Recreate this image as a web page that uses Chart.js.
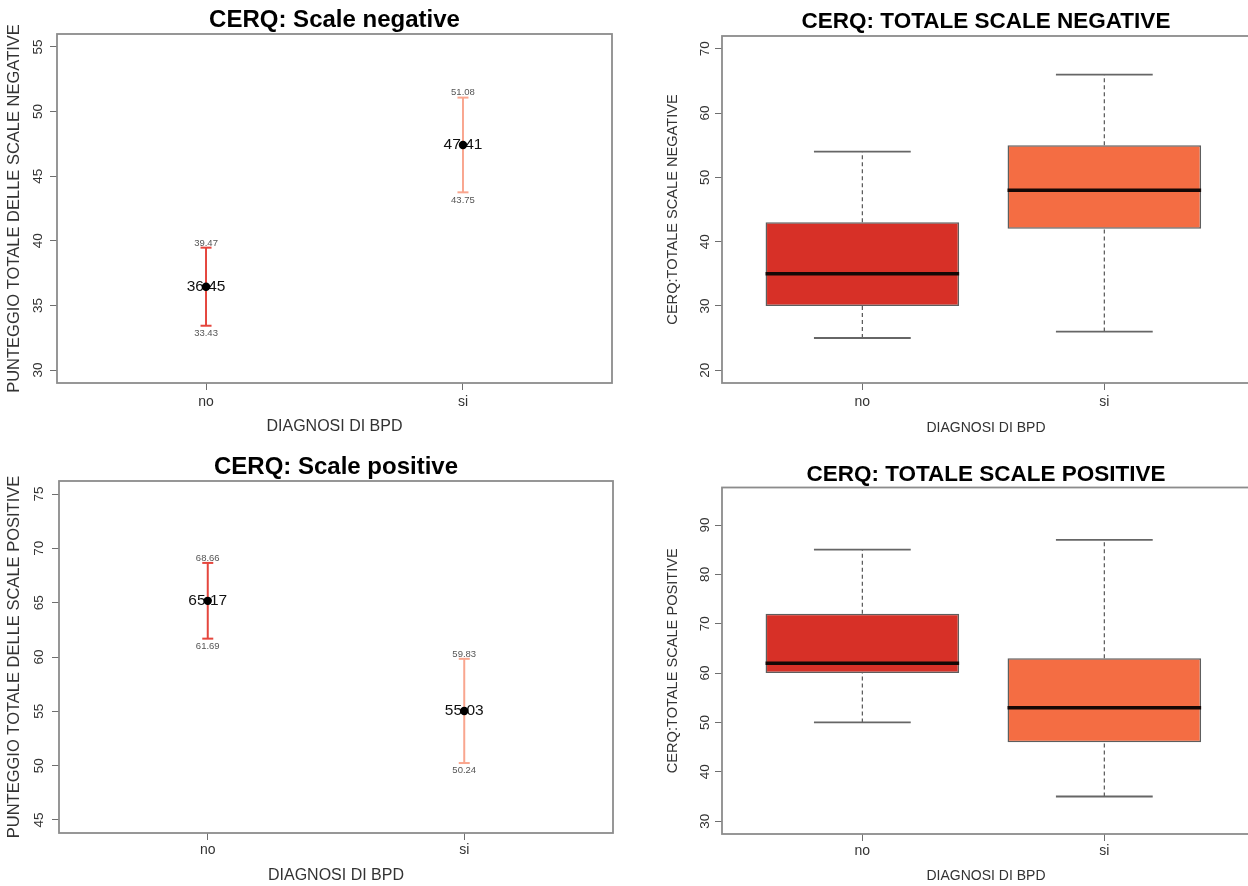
<!DOCTYPE html>
<html>
<head>
<meta charset="utf-8">
<script src="https://cdn.jsdelivr.net/npm/chart.js@4.4.1/dist/chart.umd.min.js"></script>
<style>
html, body { margin: 0; padding: 0; background: #ffffff; overflow: hidden; width: 1248px; height: 886px; }
canvas { position: absolute; }
</style>
</head>
<body>
<canvas id="tl" width="624" height="443" style="left:0px;top:0px;width:624px;height:443px"></canvas>
<canvas id="tr" width="640" height="443" style="left:624px;top:0px;width:640px;height:443px"></canvas>
<canvas id="bl" width="624" height="443" style="left:0px;top:443px;width:624px;height:443px"></canvas>
<canvas id="br" width="640" height="443" style="left:624px;top:443px;width:640px;height:443px"></canvas>
<script>
// ---------- data ----------
const groups = ['no', 'si'];

// CERQ: Scale negative (mean with confidence interval)
const negMean = [36.45, 47.41];
const negLow  = [33.43, 43.75];
const negHigh = [39.47, 51.08];
const negTicks = [30, 35, 40, 45, 50, 55];

// CERQ: Scale positive (mean with confidence interval)
const posMean = [65.17, 55.03];
const posLow  = [61.69, 50.24];
const posHigh = [68.66, 59.83];
const posTicks = [45, 50, 55, 60, 65, 70, 75];

// CERQ: TOTALE SCALE NEGATIVE (box plot)
const totNegMin = [25, 26];
const totNegQ1  = [30, 42];
const totNegMed = [35, 48];
const totNegQ3  = [43, 55];
const totNegMax = [54, 66];
const totNegTicks = [20, 30, 40, 50, 60, 70];

// CERQ: TOTALE SCALE POSITIVE (box plot)
const totPosMin = [50, 35];
const totPosQ1  = [60, 46];
const totPosMed = [62, 53];
const totPosQ3  = [72, 63];
const totPosMax = [85, 87];
const totPosTicks = [30, 40, 50, 60, 70, 80, 90];

// ---------- style ----------
const FONT = "'Liberation Sans', Arial, Helvetica, sans-serif";
Chart.defaults.font.family = FONT;
Chart.defaults.color = '#333333';
Chart.defaults.animation = false;

const errColors = ['#e5463d', '#f9a68f'];
const boxColors = ['#d73027', '#f46d43'];

const framePlugin = {
  id: 'frame',
  beforeDatasetsDraw(chart) {
    const { ctx, chartArea: a } = chart;
    ctx.save();
    ctx.strokeStyle = '#8c8c8c';
    ctx.lineWidth = 1.8;
    ctx.strokeRect(a.left, a.top, a.right - a.left, a.bottom - a.top);
    ctx.restore();
  }
};

const errLabelPlugin = {
  id: 'errLabels',
  beforeDatasetDraw(chart, args) {
    const ds = chart.data.datasets[args.index];
    if (!ds.meanLabels) return;
    const m = ds.meanLabels;
    const { ctx } = chart;
    const xs = chart.scales.x, ys = chart.scales.y;
    ctx.save();
    ctx.textAlign = 'center';
    m.mean.forEach((v, i) => {
      const x = xs.getPixelForValue(i + 1);
      ctx.fillStyle = '#111111';
      ctx.font = '15.5px ' + FONT;
      ctx.textBaseline = 'middle';
      ctx.fillText(v.toFixed(2), x, ys.getPixelForValue(v));
      ctx.fillStyle = '#555555';
      ctx.font = '9.5px ' + FONT;
      ctx.textBaseline = 'bottom';
      ctx.fillText(m.hi[i].toFixed(2), x, ys.getPixelForValue(m.hi[i]));
      ctx.textBaseline = 'top';
      ctx.fillText(m.lo[i].toFixed(2), x, ys.getPixelForValue(m.lo[i]) + 3);
    });
    ctx.restore();
  }
};

function scales(p) {
  const grid = { display: true, offset: false, drawOnChartArea: false, drawTicks: true, tickLength: 7, color: '#6f6f6f', lineWidth: 1 };
  return {
    x: {
      type: 'linear', min: 0.42, max: p.xMax, offset: false,
      afterBuildTicks: s => { s.ticks = groups.map((g, i) => ({ value: i + 1 })); },
      afterFit: s => { s.height = p.xHeight; },
      ticks: { callback: v => groups[v - 1] ?? '', font: { size: 14 }, color: '#333333', padding: p.xTickPad, autoSkip: false, maxRotation: 0, minRotation: 0 },
      grid: grid,
      border: { display: false },
      title: { display: true, text: 'DIAGNOSI DI BPD', font: { size: p.xTitleSize, lineHeight: 1 }, color: '#333333', padding: { top: 0, bottom: p.xTitlePad } }
    },
    y: {
      type: 'linear', min: p.yMin, max: p.yMax,
      afterBuildTicks: s => { s.ticks = p.yTicks.map(v => ({ value: v })); },
      afterFit: s => { s.width = p.yWidth; },
      ticks: { font: { size: 13.5 }, color: '#333333', minRotation: 90, maxRotation: 90, crossAlign: 'center', padding: p.yTickPad },
      grid: grid,
      border: { display: false },
      title: { display: true, text: p.yTitle, font: { size: p.yTitleSize, lineHeight: 1 }, color: '#333333', padding: { top: p.yTitlePad, bottom: 0 } }
    }
  };
}

function errDatasets(mean, lo, hi) {
  const ds = [];
  ds.push({
    type: 'scatter',
    data: groups.map((g, i) => ({ x: i + 1, y: mean[i] })),
    pointRadius: 4.2, pointBackgroundColor: '#000000', pointBorderWidth: 0,
    order: 0, meanLabels: { mean: mean, lo: lo, hi: hi }
  });
  ds.push({
    type: 'scatter',
    data: groups.flatMap((g, i) => [{ x: i + 1, y: hi[i] }, { x: i + 1, y: lo[i] }]),
    pointStyle: 'line', pointRadius: 5.5, pointBorderWidth: 2,
    pointBorderColor: groups.flatMap((g, i) => [errColors[i], errColors[i]]),
    order: 1
  });
  groups.forEach((g, i) => {
    ds.push({
      type: 'line',
      data: [{ x: i + 1, y: lo[i] }, { x: i + 1, y: hi[i] }],
      borderColor: errColors[i], borderWidth: 2, pointRadius: 0, order: 2
    });
  });
  return ds;
}

function boxDatasets(mn, q1, med, q3, mx) {
  const ds = [];
  ds.push({
    type: 'bar',
    data: groups.map((g, i) => ({ x: i + 1, y: [q1[i], q3[i]] })),
    backgroundColor: boxColors, borderColor: '#5e5e5e', borderWidth: 1.5, borderSkipped: false,
    categoryPercentage: 1, barPercentage: 0.8, order: 3
  });
  groups.forEach((g, i) => {
    const x = i + 1;
    ds.push({ type: 'line', data: [{ x: x - 0.4, y: med[i] }, { x: x + 0.4, y: med[i] }],
      borderColor: '#140806', borderWidth: 3.5, pointRadius: 0, order: 1 });
    ds.push({ type: 'line', data: [{ x: x, y: q3[i] }, { x: x, y: mx[i] }],
      borderColor: '#555555', borderWidth: 1.2, borderDash: [4, 3], pointRadius: 0, order: 4 });
    ds.push({ type: 'line', data: [{ x: x, y: mn[i] }, { x: x, y: q1[i] }],
      borderColor: '#555555', borderWidth: 1.2, borderDash: [4, 3], pointRadius: 0, order: 4 });
    ds.push({ type: 'line', data: [{ x: x - 0.2, y: mx[i] }, { x: x + 0.2, y: mx[i] }],
      borderColor: '#666666', borderWidth: 1.8, pointRadius: 0, order: 2 });
    ds.push({ type: 'line', data: [{ x: x - 0.2, y: mn[i] }, { x: x + 0.2, y: mn[i] }],
      borderColor: '#666666', borderWidth: 1.8, pointRadius: 0, order: 2 });
  });
  return ds;
}

function makeChart(id, p, datasets, plugins) {
  return new Chart(document.getElementById(id), {
    type: 'scatter',
    data: { datasets: datasets },
    options: {
      responsive: false,
      animation: false,
      events: [],
      layout: { padding: { left: 0, top: 0, right: p.padRight, bottom: p.padBottom } },
      plugins: {
        legend: { display: false },
        tooltip: { enabled: false },
        title: {
          display: true, text: p.title, fullSize: false, color: '#000000',
          font: { size: p.titleSize, weight: 'bold', lineHeight: 1 },
          padding: { top: p.titlePadTop, bottom: p.titlePadBottom }
        }
      },
      scales: scales(p)
    },
    plugins: plugins
  });
}

makeChart('tl', {
  title: 'CERQ: Scale negative', titleSize: 24, titlePadTop: 8, titlePadBottom: 2,
  yMin: 29, yMax: 56, yTicks: negTicks, yWidth: 57,
  yTitle: 'PUNTEGGIO TOTALE DELLE SCALE NEGATIVE', yTitleSize: 16.5, yTitlePad: 6.7, yTickPad: 4.2,
  xMax: 2.58, xHeight: 56, xTickPad: 4, xTitleSize: 16, xTitlePad: 4,
  padRight: 12, padBottom: 4
}, errDatasets(negMean, negLow, negHigh), [framePlugin, errLabelPlugin]);

makeChart('bl', {
  title: 'CERQ: Scale positive', titleSize: 24, titlePadTop: 12, titlePadBottom: 2,
  yMin: 43.8, yMax: 76.2, yTicks: posTicks, yWidth: 59,
  yTitle: 'PUNTEGGIO TOTALE DELLE SCALE POSITIVE', yTitleSize: 16.5, yTitlePad: 6.7, yTickPad: 5.2,
  xMax: 2.58, xHeight: 53, xTickPad: 2, xTitleSize: 16, xTitlePad: 2,
  padRight: 11, padBottom: 0
}, errDatasets(posMean, posLow, posHigh), [framePlugin, errLabelPlugin]);

makeChart('tr', {
  title: 'CERQ: TOTALE SCALE NEGATIVE', titleSize: 22.5, titlePadTop: 10.75, titlePadBottom: 2.75,
  yMin: 18, yMax: 72, yTicks: totNegTicks, yWidth: 98,
  yTitle: 'CERQ:TOTALE SCALE NEGATIVE', yTitleSize: 14.6, yTitlePad: 41.7, yTickPad: 2.2,
  xMax: 2.602, xHeight: 56, xTickPad: 4, xTitleSize: 14, xTitlePad: 4,
  padRight: 14, padBottom: 4
}, boxDatasets(totNegMin, totNegQ1, totNegMed, totNegQ3, totNegMax), [framePlugin]);

makeChart('br', {
  title: 'CERQ: TOTALE SCALE POSITIVE', titleSize: 22.5, titlePadTop: 20.75, titlePadBottom: 1.25,
  yMin: 27.4, yMax: 97.6, yTicks: totPosTicks, yWidth: 98,
  yTitle: 'CERQ:TOTALE SCALE POSITIVE', yTitleSize: 14.6, yTitlePad: 41.7, yTickPad: 2.2,
  xMax: 2.602, xHeight: 52, xTickPad: 2, xTitleSize: 14, xTitlePad: 3,
  padRight: 14, padBottom: 0
}, boxDatasets(totPosMin, totPosQ1, totPosMed, totPosQ3, totPosMax), [framePlugin]);
</script>
</body>
</html>
